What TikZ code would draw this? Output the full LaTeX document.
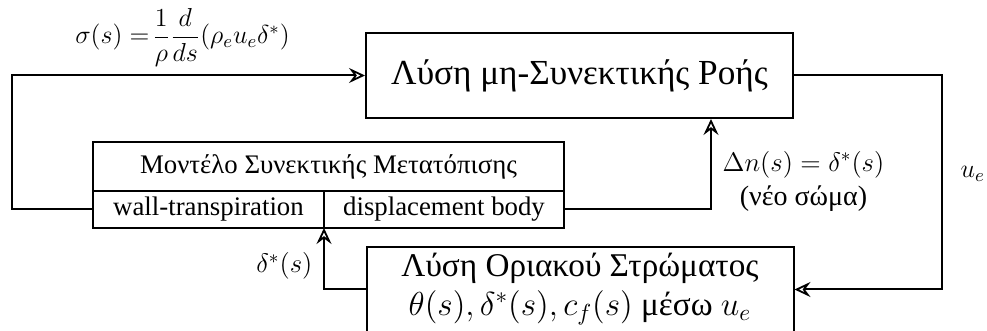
\RequirePackage{fix-cm}
\documentclass[tikz,border=0pt]{standalone}
\usepackage{amsmath}
\usepackage[no-math]{fontspec}
\setmainfont{Liberation Serif}
\usetikzlibrary{arrows.meta,positioning}

\begin{document}
\begin{tikzpicture}[x=0.5pt, y=-0.5pt,
  solver/.style={rectangle,draw,line width=1pt,minimum width=213.5pt,minimum height=42.5pt,inner sep=0pt,align=center,font=\fontsize{16.6}{19.5}\selectfont},
  cell/.style={rectangle,draw,line width=1pt,minimum height=18.5pt,inner sep=0pt,outer sep=0pt,font=\fontsize{13.4}{16}\selectfont},
  coupling/.style={line width=1pt,-{Stealth[open,length=8pt,width=7.5pt,inset=2.8pt,line width=0.9pt]}},
  lbl/.style={font=\fontsize{13.4}{17}\selectfont}]

  \useasboundingbox (0,0) rectangle (987,331);

  \node[solver, font=\fontsize{17.6}{20}\selectfont] (inviscid) at (579.5,75.5) {Λύση μη-Συνεκτικής Ροής};
  \node[solver] (layer) at (580,289.5) {Λύση Οριακού Στρώματος\\$\theta(s), \delta^*(s), c_f(s)$ μέσω $u_e$};

  \node[cell, minimum width=235.5pt, minimum height=24.5pt] (model) at (328.5,166.5) {Μοντέλο Συνεκτικής Μετατόπισης};
  \node[cell, minimum width=115.5pt, anchor=north west] (wall) at (model.south west) {wall-transpiration};
  \node[cell, minimum width=120pt, anchor=north east] (disp) at (model.south east) {displacement body};

  \coordinate (loopL) at (12,75.5);
  \coordinate (loopR) at (942,75.5);

  \draw[coupling] (wall.west) -| (loopL) -- node[above, inner sep=4pt, xshift=-3pt, font=\fontsize{13}{16}\selectfont] {$\sigma(s) =\!\dfrac{1}{\rho}\dfrac{d}{ds}(\rho_e u_e \delta^*)$} (inviscid.west);
  \draw[coupling] (disp.east) -| node[lbl, pos=0.655, right=2pt, align=center] {$\Delta n(s) = \delta^*(s)$\\{\fontsize{14}{15}\selectfont(νέο σώμα)}} ([xshift=-41.5pt]inviscid.south east);
  \draw[coupling] (inviscid.east) -- (loopR) |- node[pos=0.23, right=5.5pt, font=\fontsize{13}{15}\selectfont] {$u_e$} (layer.east);
  \draw[coupling] (layer.west) -| node[lbl, pos=0.69, left=2pt] {$\delta^*(s)$} (wall.south east);
\end{tikzpicture}
\end{document}
